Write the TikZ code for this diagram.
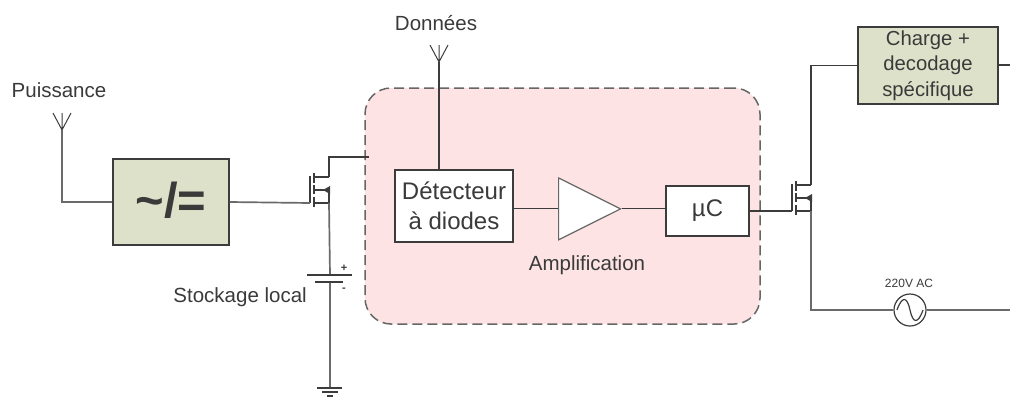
\documentclass[tikz,border=0pt]{standalone}
\usepackage{fontspec}
\setmainfont{Liberation Sans}
\usetikzlibrary{arrows.meta,positioning,calc,shapes.geometric}
\definecolor{wirec}{HTML}{3C3C3C}
\definecolor{powerc}{HTML}{6A6A6A}
\definecolor{textc}{HTML}{3A3A3A}
\definecolor{boxbg}{HTML}{DDE1C9}
\definecolor{zonebg}{HTML}{FDE3E3}
\definecolor{zonec}{HTML}{666666}
\tikzset{
  wire/.style={draw=wirec,line width=1.2pt},
  power/.style={draw=powerc,line width=1.7pt},
  block/.style={draw=wirec,line width=1.3pt,fill=boxbg,inner sep=0pt,align=center,
    text=textc,font=\fontsize{20.3}{25.5}\selectfont},
  wblock/.style={block,fill=white,draw=wirec,font=\fontsize{24}{30}\selectfont},
  lab/.style={inner sep=0pt,text=textc,font=\fontsize{20.5}{24}\selectfont},
  ant/.pic={
    \draw[wire,line width=1pt] (-9,-17) -- (0,0) -- (9,-17) (0,-17) -- (0,0);
  },
  mos/.pic={
    % gate bar, three channel stubs, body arrow
    \coordinate (-g) at (0,0);
    \coordinate (-d) at (19,-26);
    \coordinate (-s) at (19,0);
    \draw[wire] (0,-27) -- (0,0);
    \draw[wire] (4,-30) -- (4,-20) (4,-18) -- (4,-9) (4,-6) -- (4,4);
    \draw[wire] (4,-26) -- (19,-26) (4,0) -- (19,0) (19,-13) -- (19,0) (4,-13) -- (19,-13);
    \fill[wirec] (13,-13) -- (20,-17) -- (20,-9) -- cycle;
  },
}
\begin{document}
\begin{tikzpicture}[x=1pt,y=-1pt]
  \useasboundingbox (0,0) rectangle (1010,397);
  % pink zone behind everything
  \node[draw=zonec,fill=zonebg,line width=1.5pt,dash pattern=on 10pt off 5pt,rounded corners=26pt,
    minimum width=395pt,minimum height=236pt] (zone) at (562.5,206) {};
  % left side
  \node[lab] (puissance) at (59,90) {Puissance};
  \pic at (62,130) {ant};
  \coordinate (antp) at (62,130);
  \node[block,minimum width=116pt,minimum height=86pt,font=\bfseries\fontsize{49}{49}\selectfont]
    (conv) at (171,202) {\raisebox{4pt}{\char`\~/=}};
  \pic (ql) at (310,203) {mos};
  \coordinate (dl) at (369,157);
  \coordinate (bp) at (330,275);
  \coordinate (bm) at (330,282);
  \coordinate (gnd) at (330,388);
  \draw[power] (antp) |- (conv.west);
  \draw[power] (conv.east) -- (ql-g);
  \draw[wire] (ql-d) |- (dl);
  \draw[power] (ql-s) -- (bp);
  \draw[power] (bm) -- (gnd);
  % battery and ground
  \draw[wire,line width=1.4pt] (307,275) -- (352,275);
  \draw[wire,line width=1.4pt] (315,282) -- (343,282);
  \node[inner sep=0pt,text=textc,font=\fontsize{11}{11}\selectfont\bfseries] (plus) at (344,268) {+};
  \node[inner sep=0pt,text=textc,font=\fontsize{11}{11}\selectfont\bfseries] (minus) at (344,290) {-};
  \node[lab,anchor=east] (stock) at (307,297) {Stockage local};
  \draw[wire,line width=1.4pt] (317,388) -- (342,388) (322,392) -- (338,392) (327,396) -- (333,396);
  % inside the zone
  \node[lab] (donnees) at (436,23) {Données};
  \pic at (439,62) {ant};
  \coordinate (antd) at (439,62);
  \node[wblock,minimum width=118pt,minimum height=72pt] (det) at (454,206) {Détecteur\\à diodes};
  \node[draw=zonec,fill=white,line width=1.2pt,isosceles triangle,isosceles triangle apex angle=53,
    inner sep=0pt,minimum height=62pt,minimum width=61pt,anchor=left corner,shape border rotate=0] (amp) at (558,177) {};
  \node[lab] (amptxt) at (587,265) {Amplification};
  \node[wblock,minimum width=83pt,minimum height=50pt] (muc) at (707.5,211) {µC};
  \draw[wire] (antd) -- (det.north -| antd);
  \draw[wire] (det.east |- amp.west) -- (amp.west);
  \draw[wire] (amp.east) -- (muc.west |- amp.east);
  % right side
  \node[block,minimum width=140pt,minimum height=77pt] (charge) at (928,65.5) {Charge +\\decodage\\spécifique};
  \pic (qr) at (792,211) {mos};
  \coordinate (endc) at (1010,65);
  \coordinate (endv) at (1010,310);
  \coordinate (cornv) at (811,310);
  \node[draw=wirec,line width=1.2pt,fill=white,circle,minimum size=32pt,inner sep=0pt] (src) at (910,310) {};
  \draw[wire] (897,310) .. controls (902,296) and (907,296) .. (910,310)
    .. controls (913,324) and (918,324) .. (923,310);
  \node[inner sep=0pt,text=textc,font=\fontsize{12}{14}\selectfont] (vac) at (909,283) {220V AC};
  \draw[wire] (muc.east) -- (qr-g);
  \draw[wire] (qr-d) |- (charge.west);
  \draw[wire] (charge.east |- endc) -- (endc);
  \draw[power] (qr-s) -- (cornv) -- (src.west);
  \draw[power] (src.east) -- (endv);
\end{tikzpicture}
\end{document}
